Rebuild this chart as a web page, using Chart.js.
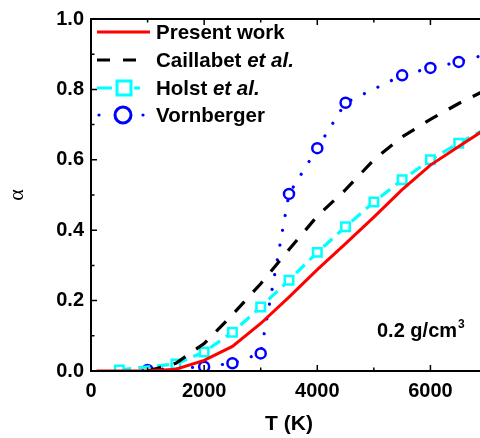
<!DOCTYPE html>
<html>
<head>
<meta charset="utf-8">
<script src="https://cdn.jsdelivr.net/npm/chart.js@4"></script>
<style>
  html, body { margin: 0; padding: 0; background: #fff; overflow: hidden; }
  #wrap { width: 500px; height: 438px; position: relative; }
</style>
</head>
<body>
<div id="wrap"><canvas id="chart"></canvas></div>
<script>
// Ionisation degree vs temperature, 0.2 g/cm3
const presentT = [100, 500, 1000, 1500, 2000, 2500, 3000, 3500, 4000, 4500, 5000, 5500, 6000, 6500, 7000];
const presentAlpha = [0, 0, 0, 0.005, 0.03, 0.07, 0.135, 0.21, 0.288, 0.362, 0.437, 0.515, 0.585, 0.638, 0.69];

const caillabetT = [1000, 1500, 2000, 2500, 3000, 3500, 4000, 4500, 5000, 5500, 6000, 6500, 7000];
const caillabetAlpha = [0, 0.022, 0.078, 0.16, 0.248, 0.345, 0.44, 0.515, 0.6, 0.665, 0.715, 0.76, 0.8];

const holstT = [500, 1500, 2000, 2500, 3000, 3500, 4000, 4500, 5000, 5500, 6000, 6500, 7000];
const holstAlpha = [0.003, 0.02, 0.054, 0.11, 0.182, 0.258, 0.337, 0.41, 0.48, 0.543, 0.6, 0.647, 0.69];

const vornT = [1000, 2000, 2500, 3000, 3500, 4000, 4500, 5500, 6000, 6500, 7000];
const vornAlpha = [0.003, 0.012, 0.022, 0.05, 0.503, 0.633, 0.762, 0.84, 0.861, 0.878, 0.9];

const xTicks = [0, 2000, 4000, 6000];
const yTicks = [0, 0.2, 0.4, 0.6, 0.8, 1.0];

const FONT = "'Liberation Sans', Arial, sans-serif";
const RED = '#ff0000', CYAN = '#00ffff', BLUE = '#0000ff';

const toPoints = (xs, ys) => xs.map((t, i) => ({ x: t, y: ys[i] }));

// inward ticks + frame
const framePlugin = {
    id: 'frame',
    afterDraw(chart) {
        const { ctx, chartArea: a, scales: { x, y } } = chart;
        ctx.save();
        ctx.strokeStyle = '#000';
        ctx.lineWidth = 2;
        ctx.strokeRect(a.left, a.top, a.right - a.left, a.bottom - a.top);
        ctx.lineWidth = 1.5;
        ctx.beginPath();
        for (let v = 0; v <= 7000; v += 1000) {
            const px = x.getPixelForValue(v);
            const len = xTicks.includes(v) ? 6 : 3.5;
            ctx.moveTo(px, a.bottom); ctx.lineTo(px, a.bottom - len);
            ctx.moveTo(px, a.top); ctx.lineTo(px, a.top + len);
        }
        for (let i = 0; i <= 10; i++) {
            const py = y.getPixelForValue(i / 10);
            const len = i % 2 === 0 ? 6 : 3.5;
            ctx.moveTo(a.left, py); ctx.lineTo(a.left + len, py);
            ctx.moveTo(a.right, py); ctx.lineTo(a.right - len, py);
        }
        ctx.stroke();
        ctx.restore();
    }
};

// legend with italic "et al." + density label
const legendPlugin = {
    id: 'customLegend',
    afterDatasetsDraw(chart) {
        const { ctx } = chart;
        const rows = [32, 60, 88, 115];
        const x0 = 97, x1 = 150, tx = 156;
        ctx.save();
        ctx.lineCap = 'butt';

        // Present work
        ctx.strokeStyle = RED; ctx.lineWidth = 3;
        ctx.beginPath(); ctx.moveTo(x0, rows[0]); ctx.lineTo(x1, rows[0]); ctx.stroke();

        // Caillabet
        ctx.strokeStyle = '#000';
        ctx.setLineDash([13, 13]);
        ctx.beginPath(); ctx.moveTo(x0, rows[1]); ctx.lineTo(136, rows[1]); ctx.stroke();
        ctx.setLineDash([]);

        // Holst
        ctx.strokeStyle = CYAN;
        ctx.beginPath();
        ctx.moveTo(x0, rows[2]); ctx.lineTo(112, rows[2]);
        ctx.moveTo(134, rows[2]); ctx.lineTo(140, rows[2]);
        ctx.stroke();
        ctx.fillStyle = '#fff';
        ctx.fillRect(117, rows[2] - 7, 14, 14);
        ctx.strokeRect(117, rows[2] - 7, 14, 14);

        // Vornberger
        ctx.fillStyle = BLUE;
        ctx.beginPath(); ctx.arc(99, rows[3], 1.6, 0, Math.PI * 2); ctx.fill();
        ctx.beginPath(); ctx.arc(143, rows[3], 1.6, 0, Math.PI * 2); ctx.fill();
        ctx.strokeStyle = BLUE;
        ctx.fillStyle = '#fff';
        ctx.beginPath(); ctx.arc(123, rows[3], 8, 0, Math.PI * 2); ctx.fill(); ctx.stroke();

        // texts
        ctx.fillStyle = '#000';
        ctx.textBaseline = 'middle';
        const bold = 'bold 20.5px ' + FONT, ital = 'italic bold 20.5px ' + FONT;
        const pieces = [
            [['Present work', bold]],
            [['Caillabet ', bold], ['et al.', ital]],
            [['Holst ', bold], ['et al.', ital]],
            [['Vornberger', bold]]
        ];
        pieces.forEach((parts, i) => {
            let x = tx;
            parts.forEach(([s, f]) => {
                ctx.font = f;
                ctx.fillText(s, x, rows[i] + 1);
                x += ctx.measureText(s).width;
            });
        });

        // density annotation
        ctx.textBaseline = 'alphabetic';
        ctx.font = 'bold 20px ' + FONT;
        ctx.fillText('0.2 g/cm', 377, 337);
        const w = ctx.measureText('0.2 g/cm').width;
        ctx.font = 'bold 12px ' + FONT;
        ctx.fillText('3', 377 + w + 1, 328);
        ctx.restore();
    }
};

new Chart(document.getElementById('chart'), {
    type: 'line',
    data: {
        datasets: [
            {
                label: 'Present work',
                data: toPoints(presentT, presentAlpha),
                borderColor: RED,
                borderWidth: 3,
                pointRadius: 0,
                tension: 0
            },
            {
                label: 'Caillabet et al.',
                data: toPoints(caillabetT, caillabetAlpha),
                borderColor: '#000',
                borderWidth: 3.2,
                borderDash: [14, 13],
                pointRadius: 0,
                tension: 0
            },
            {
                label: 'Holst et al.',
                data: toPoints(holstT, holstAlpha),
                borderColor: CYAN,
                borderWidth: 3.2,
                borderDash: [12, 7],
                pointStyle: 'rect',
                pointRadius: 6,
                pointBorderWidth: 2.5,
                pointBackgroundColor: '#fff',
                pointBorderColor: CYAN,
                tension: 0
            },
            {
                label: 'Vornberger',
                data: toPoints(vornT, vornAlpha),
                borderColor: BLUE,
                borderWidth: 3.2,
                borderDash: [0.01, 15],
                borderCapStyle: 'round',
                pointStyle: 'circle',
                pointRadius: 5,
                pointBorderWidth: 2.5,
                pointBackgroundColor: '#fff',
                pointBorderColor: BLUE,
                tension: 0
            }
        ]
    },
    options: {
        responsive: true,
        maintainAspectRatio: false,
        animation: false,
        layout: { padding: { top: 13, right: 13, left: 0, bottom: 0 } },
        plugins: {
            legend: { display: false },
            tooltip: { enabled: false }
        },
        scales: {
            x: {
                type: 'linear',
                min: 0,
                max: 7000,
                grid: { display: false, drawTicks: false },
                border: { display: false },
                ticks: {
                    stepSize: 1000,
                    autoSkip: false,
                    maxRotation: 0,
                    padding: 8,
                    color: '#000',
                    font: { family: FONT, size: 20, weight: 'bold' },
                    callback: v => xTicks.includes(v) ? String(v) : ''
                },
                title: {
                    display: true,
                    text: 'T (K)',
                    color: '#000',
                    font: { family: FONT, size: 21, weight: 'bold' },
                    padding: { top: 0, bottom: 1 }
                },
                afterFit: s => { s.height = 67; }
            },
            y: {
                min: 0,
                max: 1,
                grid: { display: false, drawTicks: false },
                border: { display: false },
                ticks: {
                    stepSize: 0.1,
                    autoSkip: false,
                    padding: 7,
                    color: '#000',
                    font: { family: FONT, size: 20, weight: 'bold' },
                    callback: v => {
                        const r = Math.round(v * 10) / 10;
                        return yTicks.some(t => Math.abs(t - r) < 1e-9) ? r.toFixed(1) : '';
                    }
                },
                title: {
                    display: true,
                    text: 'α',
                    color: '#000',
                    font: { family: "'Liberation Serif', 'Times New Roman', serif", size: 22 },
                    padding: { top: 4, bottom: 0 }
                },
                afterFit: s => { s.width = 91; }
            }
        }
    },
    plugins: [framePlugin, legendPlugin]
});
</script>
</body>
</html>
